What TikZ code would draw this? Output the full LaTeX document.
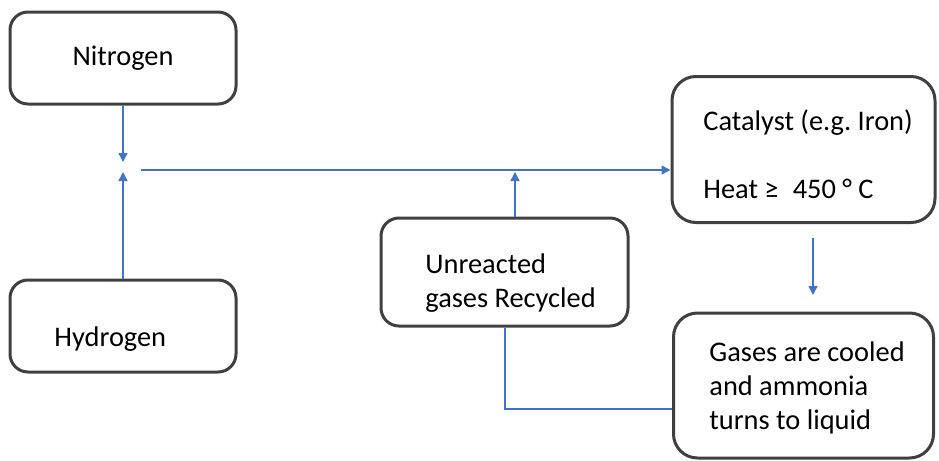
\documentclass[tikz,border=0pt]{standalone}
\usepackage{fontspec}
\setmainfont{Carlito}
\usepackage{tikz}
\usetikzlibrary{arrows.meta,positioning}
\usepackage{xcolor}
\definecolor{flowblue}{RGB}{68,114,196}
\definecolor{boxgray}{RGB}{64,64,64}
\frenchspacing

\begin{document}
\begin{tikzpicture}[x=0.5pt, y=-0.5pt, >={Triangle[length=4.5pt,width=4.5pt]},
    box/.style={rectangle, draw=boxgray, line width=1.5pt, rounded corners=9pt, inner sep=0pt, font=\fontsize{14.2}{17}\selectfont},
    txt/.style={inner sep=0pt, anchor=west, align=left, font=\fontsize{14.2}{17.2}\selectfont},
    flow/.style={draw=flowblue, line width=0.75pt}]
    \useasboundingbox (0,0) rectangle (939,461);

    \node[box, minimum width=113pt, minimum height=46pt] (nitrogen) at (123,58) {\raisebox{-1pt}{Nitrogen}};
    \node[box, minimum width=113pt, minimum height=46pt] (hydrogen) at (123,326) {};
    \node[box, minimum width=123.5pt, minimum height=54pt] (recycle) at (504.5,272) {};
    \node[box, rounded corners=12pt, minimum width=131.5pt, minimum height=73pt] (catalyst) at (803.5,149.5) {};
    \node[box, rounded corners=12pt, minimum width=130pt, minimum height=72.5pt] (gases) at (803.5,385.5) {};

    \node[txt] (htext) at (54,339) {Hydrogen};
    \node[txt] (rtext) at (425,283) {Unreacted\\gases Recycled};
    \node[txt] (ctext) at (703,154) {Catalyst (e.g. Iron)\\[17pt]Heat ≥\enspace 450 ° C};
    \node[txt] (gtext) at (709,388) {Gases are cooled\\and ammonia\\turns to liquid};

    \coordinate (njoin) at (123,162);
    \coordinate (hjoin) at (123,172);
    \coordinate (feed) at (141,170);
    \coordinate (rjoin) at (515,172);
    \coordinate (cout) at (813,238);
    \coordinate (gin) at (813,295);
    \coordinate (back) at (505,409);

    \draw[flow,->] (nitrogen.south) -- (njoin);
    \draw[flow,->] (hydrogen.north) -- (hjoin);
    \draw[flow,->] (feed) -- (catalyst.west |- feed);
    \draw[flow,->] (recycle.north -| rjoin) -- (rjoin);
    \draw[flow,->] (cout) -- (gin);
    \draw[flow] (recycle.south -| back) -- (back) -- (gases.west |- back);
\end{tikzpicture}
\end{document}
